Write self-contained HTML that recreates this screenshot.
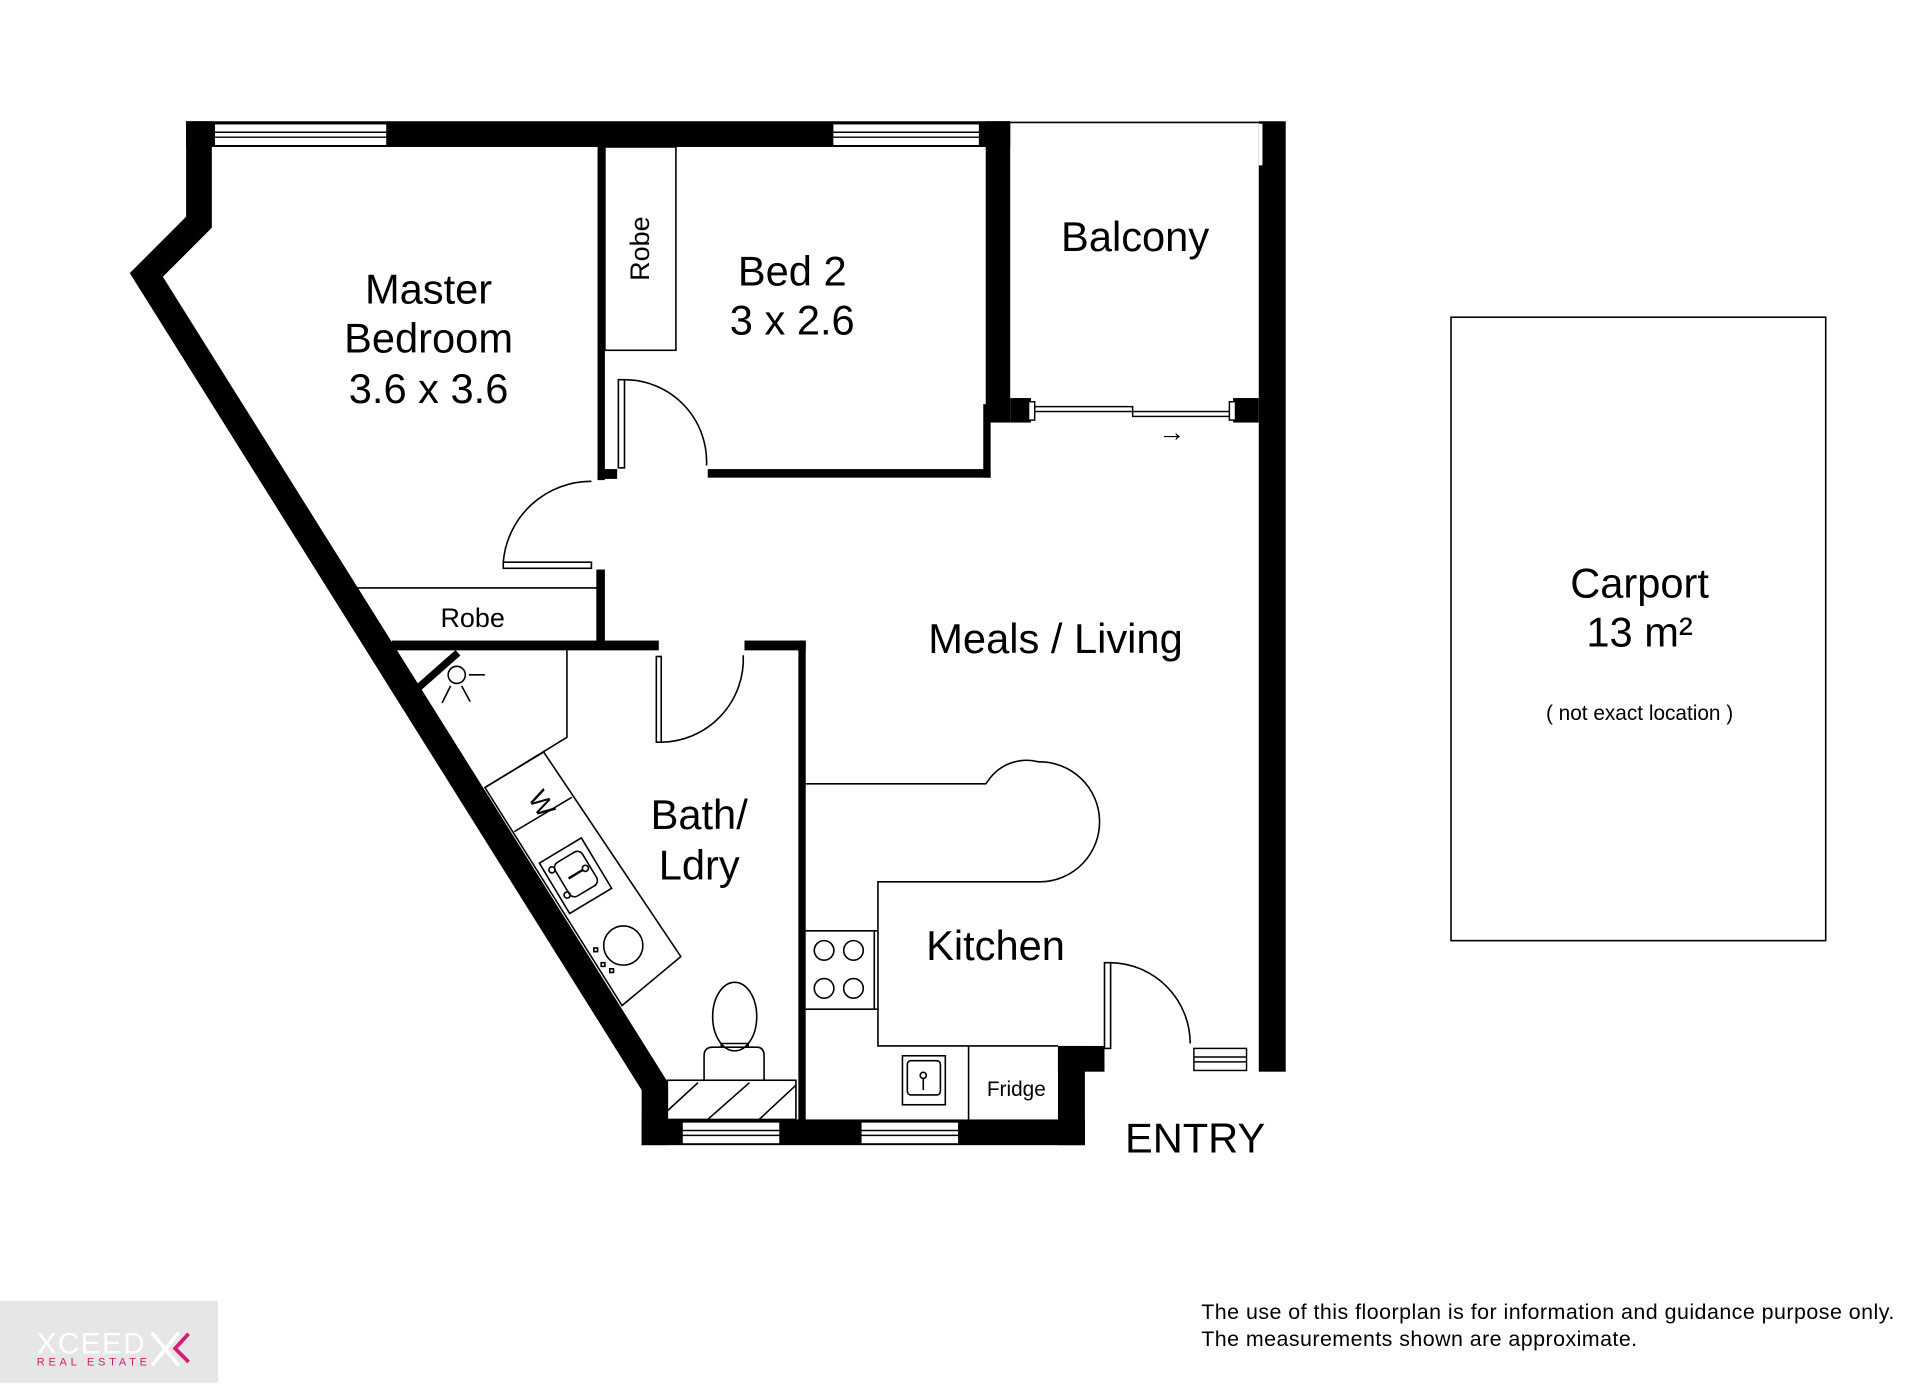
<!DOCTYPE html>
<html><head><meta charset="utf-8"><style>
html,body{margin:0;padding:0;background:#fff;width:1920px;height:1384px;overflow:hidden}
svg{display:block}
text{font-family:"Liberation Sans",Arial,sans-serif;fill:#000}
</style></head><body>
<svg width="1920" height="1384" viewBox="0 0 1568 1130" preserveAspectRatio="none">
<rect width="1568" height="1130" fill="#fff"/>
<g fill="#000" stroke="none">
<rect x="152" y="99" width="673" height="21"/>
<polygon points="152,99 173,99 173,186 133,226 545,883 545,935 524,935 524,890 106,223 152,177"/>
<rect x="524" y="914" width="362" height="21"/>
<rect x="864" y="854" width="22" height="81"/>
<rect x="864" y="854" width="38" height="21"/>
<rect x="1028" y="99" width="22" height="776"/>
<rect x="805" y="99" width="20" height="246"/>
<rect x="803" y="330" width="6" height="60"/>
<rect x="825" y="325" width="17" height="20"/>
<rect x="1007" y="325" width="21" height="20"/>
<rect x="488" y="120" width="6" height="272"/>
<rect x="488" y="383" width="16" height="8"/>
<rect x="578" y="383" width="231" height="7"/>
<rect x="487" y="465" width="7" height="62"/>
<rect x="320" y="523" width="218" height="8"/>
<rect x="608" y="523" width="50" height="8"/>
<rect x="652" y="523" width="6" height="392"/>
</g>
<rect x="1028" y="101" width="3" height="34" fill="#fff"/>
<g fill="none" stroke="#000" stroke-width="1.3">
<line x1="825" y1="100" x2="1028" y2="100"/>
</g>
<g fill="#fff" stroke="#000" stroke-width="1.2">
<rect x="175" y="101" width="141" height="18"/><line x1="175" y1="108" x2="316" y2="108"/><line x1="175" y1="112" x2="316" y2="112"/>
<rect x="680" y="101" width="120" height="18"/><line x1="680" y1="108" x2="800" y2="108"/><line x1="680" y1="112" x2="800" y2="112"/>
<rect x="557" y="916" width="80" height="18"/><line x1="557" y1="923" x2="637" y2="923"/><line x1="557" y1="927" x2="637" y2="927"/>
<rect x="703" y="916" width="80" height="18"/><line x1="703" y1="923" x2="783" y2="923"/><line x1="703" y1="927" x2="783" y2="927"/>
<rect x="975" y="856" width="43" height="18"/><line x1="975" y1="863" x2="1018" y2="863"/><line x1="975" y1="867" x2="1018" y2="867"/>
<rect x="843" y="332" width="82" height="4"/><rect x="925" y="336" width="82" height="4"/>
<rect x="840" y="328" width="5" height="15"/><rect x="1004" y="328" width="5" height="15"/>
</g>
<g fill="none" stroke="#000" stroke-width="1.3">
<rect x="494" y="120" width="58" height="166"/>
<polyline points="290,480 488,480 488,525"/>
<rect x="505" y="310" width="5" height="72"/>
<path d="M510,310 A67,67 0 0 1 577,380"/>
<rect x="411" y="459" width="72" height="5"/>
<path d="M411,459 A72,72 0 0 1 483,393"/>
<rect x="536" y="536" width="4" height="70"/>
<path d="M540,606 A68,68 0 0 0 607,535"/>
<rect x="902" y="786" width="5" height="70"/>
<path d="M907,786 A66,66 0 0 1 972,852"/>
<polyline points="463,531 463,602 396,643"/>
<polygon points="396,643 444,614 556,781 508,821" />
<line x1="420" y1="679" x2="467" y2="651"/>
<g transform="translate(470,715) rotate(-31)">
<rect x="-20" y="-24" width="40" height="48"/>
<rect x="-12" y="-17" width="26" height="32" rx="5"/>
<circle cx="-14" cy="-14" r="2.5"/><circle cx="-14" cy="10" r="2.5"/>
<line x1="-6" y1="-1" x2="8" y2="-1" stroke-width="2"/><circle cx="10" cy="-1" r="2.5"/>
</g>
<circle cx="509" cy="772" r="16"/>
<rect x="485" y="774" width="3" height="3"/><rect x="491" y="786" width="3" height="3"/><rect x="498" y="791" width="3" height="3"/>
<ellipse cx="600" cy="830" rx="18" ry="28"/>
<path d="M589,855 L589,852 L611,852 L611,855 M575,882 L575,862 Q575,855 582,855 L618,855 Q624,855 624,862 L624,882"/>
<rect x="545" y="882" width="105" height="32"/>
<line x1="545" y1="907" x2="570" y2="884"/><line x1="578" y1="914" x2="612" y2="884"/><line x1="620" y1="914" x2="650" y2="886"/>
<path d="M658,640 L805,640 L808,636 A38,38 0 0 1 848,622 A45,45 0 0 1 850,720 L717,720 L717,854 L864,854"/>
<line x1="658" y1="760" x2="717" y2="760"/>
<line x1="658" y1="824" x2="717" y2="824"/>
<line x1="714" y1="760" x2="714" y2="824"/>
<circle cx="673" cy="776" r="8"/><circle cx="697" cy="776" r="8"/>
<circle cx="673" cy="807" r="8"/><circle cx="697" cy="807" r="8"/>
<line x1="791" y1="854" x2="791" y2="914"/>
<rect x="737" y="862" width="35" height="40"/>
<rect x="741" y="866" width="27" height="28" rx="3"/>
<circle cx="754" cy="878" r="2.5"/><line x1="754" y1="880" x2="754" y2="890"/>
<line x1="374" y1="533" x2="340" y2="563" stroke-width="6"/>
<circle cx="373" cy="551" r="7"/>
<line x1="383" y1="551" x2="396" y2="551"/>
<line x1="368" y1="560" x2="361" y2="574"/>
<line x1="377" y1="560" x2="384" y2="573"/>
<rect x="1185" y="259" width="306" height="509"/>
</g>
<text x="946" y="360" font-size="22">→</text>
<g text-anchor="middle">
<text x="350" y="248" font-size="34">Master</text>
<text x="350" y="288" font-size="34">Bedroom</text>
<text x="350" y="329" font-size="34">3.6 x 3.6</text>
<text x="647" y="233" font-size="34">Bed 2</text>
<text x="647" y="273" font-size="34">3 x 2.6</text>
<text x="927" y="205" font-size="34">Balcony</text>
<text transform="translate(530,203) rotate(-90)" font-size="22">Robe</text>
<text x="386" y="512" font-size="22">Robe</text>
<text x="862" y="533" font-size="34">Meals / Living</text>
<text x="571" y="677" font-size="34">Bath/</text>
<text x="571" y="718" font-size="34">Ldry</text>
<text x="813" y="784" font-size="34">Kitchen</text>
<text x="830" y="895" font-size="17">Fridge</text>
<text x="976" y="941" font-size="34">ENTRY</text>
<text x="1339" y="488" font-size="34">Carport</text>
<text x="1339" y="528" font-size="34">13 m²</text>
<text x="1339" y="588" font-size="17">( not exact location )</text>
<text transform="translate(436,660) rotate(59)" font-size="22">W</text>
</g>
<text x="981" y="1077" font-size="17.5" textLength="566">The use of this floorplan is for information and guidance purpose only.</text>
<text x="981" y="1099" font-size="17.5" textLength="356">The measurements shown are approximate.</text>
<rect x="0" y="1062" width="178" height="67" fill="#e6e6e6"/>
<text x="30" y="1105" font-size="24" style="fill:#fff" textLength="88">XCEED</text>
<text x="30" y="1115" font-size="9" style="fill:#d41c73" textLength="90">REAL ESTATE</text>
<g stroke="#fff" stroke-width="3" fill="none"><line x1="124" y1="1088" x2="146" y2="1115"/><line x1="146" y1="1088" x2="124" y2="1115"/></g>
<polyline points="154,1089 143,1101 154,1112" stroke="#d41c73" stroke-width="3" fill="none"/>
</svg>
</body></html>
